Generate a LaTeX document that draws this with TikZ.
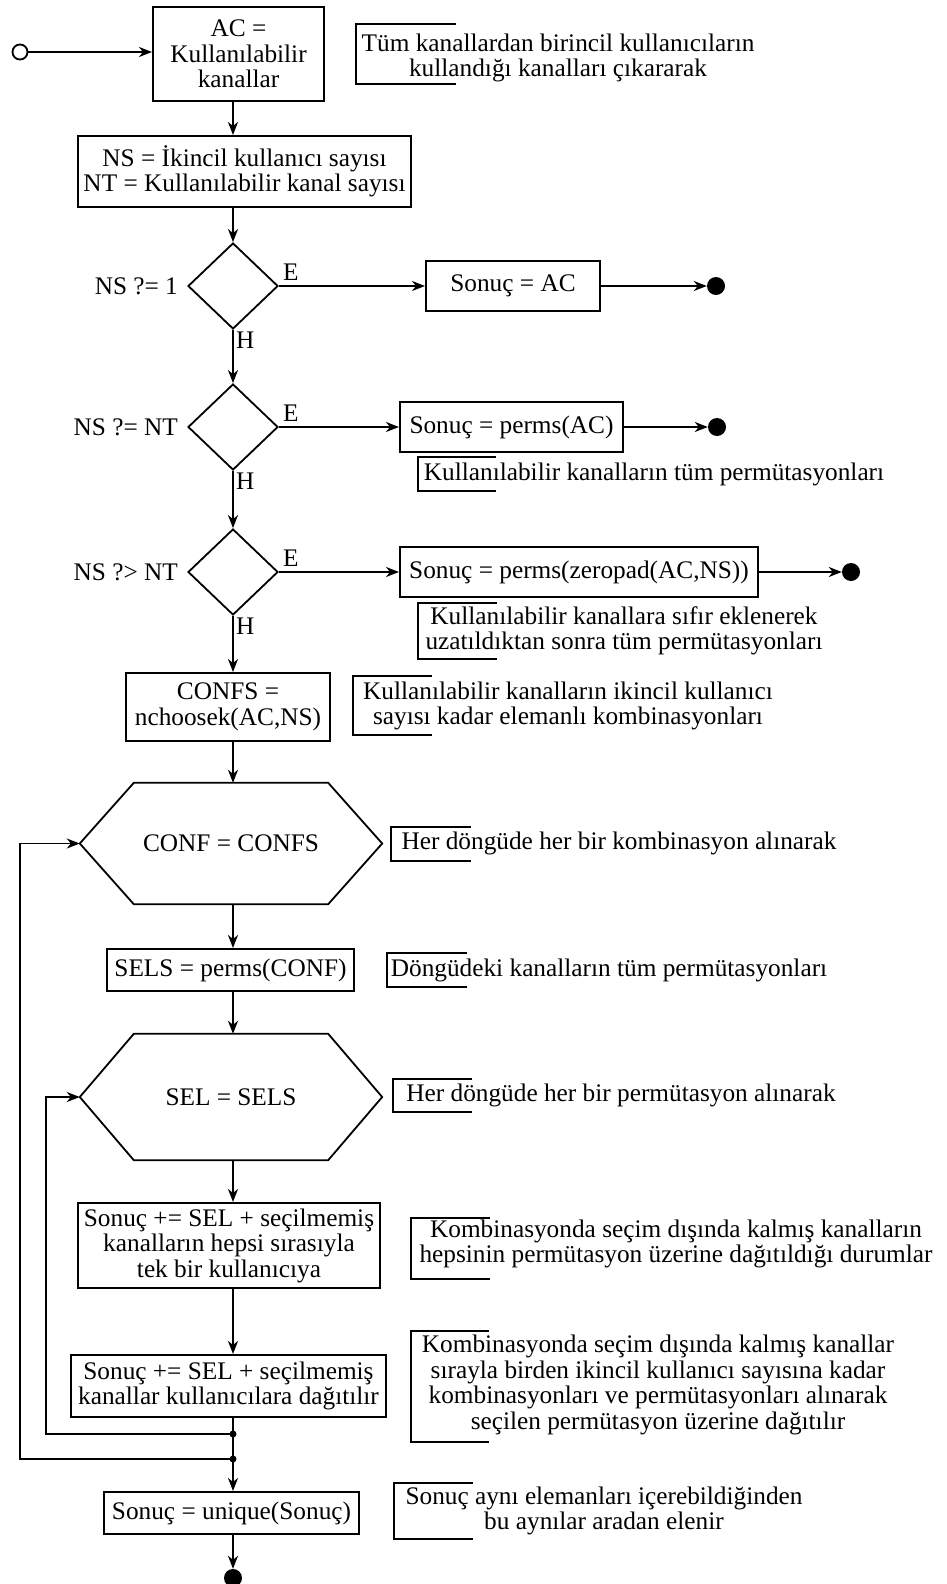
\documentclass[tikz,border=0pt]{standalone}
\usepackage{fontspec}
\setmainfont{Liberation Serif}
\usetikzlibrary{arrows.meta,positioning,shapes.geometric}
\newcommand{\dfont}{\fontsize{25.3pt}{25.5pt}\selectfont}
\tikzset{
  flowbox/.style={draw,line width=2pt,inner sep=2pt,align=center,font=\dfont},
  decision/.style={diamond,draw,line width=1.8pt,minimum width=90pt,
                   minimum height=86pt,inner sep=0pt},
  hexbox/.style={inner sep=0pt,align=center,font=\dfont,minimum width=302pt},
  note/.style={align=center,font=\dfont,inner sep=0pt},
  outlbl/.style={font=\dfont,inner sep=2pt},
  flowarr/.style={-{Stealth[length=13pt,width=10pt,inset=4pt]},line width=1.8pt},
  plainline/.style={line width=1.8pt},
  brk/.style={line width=2pt},
  enddot/.style={circle,fill,inner sep=0pt,minimum size=18pt},
  joint/.style={circle,fill,inner sep=0pt,minimum size=7pt},
  startpt/.style={circle,draw,line width=1.8pt,fill=white,inner sep=0pt,minimum size=15pt}
}
% hexagon outline round a hexbox node: #1 name, #2 inset of the flat edges
\newcommand{\hexdraw}[2]{%
  \draw[line width=1.8pt] (#1.west) -- ([xshift=#2]#1.north west)
    -- ([xshift=-#2]#1.north east) -- (#1.east)
    -- ([xshift=-#2]#1.south east) -- ([xshift=#2]#1.south west) -- cycle;}

\begin{document}
\begin{tikzpicture}[x=1pt,y=-1pt]
  \useasboundingbox (0,0) rectangle (947,1584);

  % start and first two boxes
  \node[startpt] (start) at (20,52) {};
  \node[flowbox,minimum width=171pt,minimum height=94pt] (ac) at (238.5,54)
    {AC =\\Kullanılabilir\\kanallar};
  \node[flowbox,minimum width=333pt,minimum height=71pt] (nsnt) at (244.5,171.5)
    {NS = İkincil kullanıcı sayısı\\NT = Kullanılabilir kanal sayısı};
  \node[note] (n1) at (558,58)
    {Tüm kanallardan birincil kullanıcıların\\kullandığı kanalları çıkararak};
  \draw[brk] (456,24) -| (356,84) -- (456,84);

  % three tests
  \node[decision] (d1) at (233,286) {};
  \node[outlbl,left=7pt of d1] (q1) {NS ?= 1};
  \node[outlbl,anchor=south west,xshift=2pt,yshift=3pt] (e1) at (d1.east) {E};
  \node[outlbl,anchor=north west,xshift=1pt] (h1) at (d1.south) {H};
  \node[flowbox,minimum width=174pt,minimum height=50pt] (r1) at (513,286) {Sonuç = AC};
  \node[enddot] (x1) at (716,286) {};

  \node[decision] (d2) at (233,427) {};
  \node[outlbl,left=7pt of d2] (q2) {NS ?= NT};
  \node[outlbl,anchor=south west,xshift=2pt,yshift=3pt] (e2) at (d2.east) {E};
  \node[outlbl,anchor=north west,xshift=1pt] (h2) at (d2.south) {H};
  \node[flowbox,minimum width=223pt,minimum height=50pt] (r2) at (511.5,427) {Sonuç = perms(AC)};
  \node[enddot] (x2) at (717,427) {};
  \node[note] (n2) at (654,474) {Kullanılabilir kanalların tüm permütasyonları};
  \draw[brk] (496,457) -| (418,491) -- (496,491);

  \node[decision] (d3) at (233,572) {};
  \node[outlbl,left=7pt of d3] (q3) {NS ?> NT};
  \node[outlbl,anchor=south west,xshift=2pt,yshift=3pt] (e3) at (d3.east) {E};
  \node[outlbl,anchor=north west,xshift=1pt] (h3) at (d3.south) {H};
  \node[flowbox,minimum width=358pt,minimum height=50pt] (r3) at (579,572)
    {Sonuç = perms(zeropad(AC,NS))};
  \node[enddot] (x3) at (851,572) {};
  \node[note] (n3) at (624,631)
    {Kullanılabilir kanallara sıfır eklenerek\\uzatıldıktan sonra tüm permütasyonları};
  \draw[brk] (497,603) -| (418,659) -- (497,659);

  % combinations
  \node[flowbox,minimum width=204pt,minimum height=68pt] (confs) at (228,707)
    {CONFS =\\nchoosek(AC,NS)};
  \node[note] (n4) at (568,706)
    {Kullanılabilir kanalların ikincil kullanıcı\\sayısı kadar elemanlı kombinasyonları};
  \draw[brk] (432,676) -| (353,735) -- (432,735);

  \node[hexbox,minimum height=121pt] (hex1) at (231,843.5) {CONF = CONFS};
  \hexdraw{hex1}{54pt}
  \node[note] (n5) at (619,843) {Her döngüde her bir kombinasyon alınarak};
  \draw[brk] (471,827) -| (391,861) -- (471,861);

  \node[flowbox,minimum width=247pt,minimum height=42pt] (sels) at (230.5,970)
    {SELS = perms(CONF)};
  \node[note] (n6) at (609,970) {Döngüdeki kanalların tüm permütasyonları};
  \draw[brk] (467,953) -| (387,987) -- (467,987);

  \node[hexbox,minimum height=126pt] (hex2) at (231,1097) {SEL = SELS};
  \hexdraw{hex2}{54pt}
  \node[note] (n7) at (621,1095) {Her döngüde her bir permütasyon alınarak};
  \draw[brk] (472,1079) -| (393,1112) -- (472,1112);

  \node[flowbox,minimum width=302pt,minimum height=85pt] (b1) at (229,1245.5)
    {Sonuç += SEL + seçilmemiş\\kanalların hepsi sırasıyla\\tek bir kullanıcıya};
  \node[note] (n8) at (676,1244)
    {Kombinasyonda seçim dışında kalmış kanalların\\hepsinin permütasyon üzerine dağıtıldığı durumlar};
  \draw[brk] (490,1218) -| (411,1279) -- (490,1279);

  \node[flowbox,minimum width=315pt,minimum height=62pt] (b2) at (228.5,1386)
    {Sonuç += SEL + seçilmemiş\\kanallar kullanıcılara dağıtılır};
  \node[note] (n9) at (658,1385)
    {Kombinasyonda seçim dışında kalmış kanallar\\sırayla birden ikincil kullanıcı sayısına kadar\\kombinasyonları ve permütasyonları alınarak\\seçilen permütasyon üzerine dağıtılır};
  \draw[brk] (489,1331) -| (411,1442) -- (489,1442);

  \node[joint] (j1) at (233,1434) {};
  \node[joint] (j2) at (233,1459) {};

  \node[flowbox,minimum width=255pt,minimum height=42pt] (uniq) at (231.5,1513)
    {Sonuç = unique(Sonuç)};
  \node[note] (n10) at (604,1511)
    {Sonuç aynı elemanları içerebildiğinden\\bu aynılar aradan elenir};
  \draw[brk] (473,1483) -| (394,1539) -- (473,1539);
  \node[enddot] (fin) at (233,1578) {};

  % connectors
  \draw[flowarr] (start.east) -- (start.east -| ac.west);
  \draw[flowarr] (ac.south -| d1) -- (nsnt.north -| d1);
  \draw[flowarr] (nsnt.south -| d1) -- (d1.north);
  \draw[flowarr] (d1.east) -- (r1.west);
  \draw[flowarr] (r1.east) -- (x1.west);
  \draw[flowarr] (d1.south) -- (d2.north);
  \draw[flowarr] (d2.east) -- (r2.west);
  \draw[flowarr] (r2.east) -- (x2.west);
  \draw[flowarr] (d2.south) -- (d3.north);
  \draw[flowarr] (d3.east) -- (r3.west);
  \draw[flowarr] (r3.east) -- (x3.west);
  \draw[flowarr] (d3.south) -- (confs.north -| d3);
  \draw[flowarr] (confs.south -| d3) -- (hex1.north -| d3);
  \draw[flowarr] (hex1.south -| d3) -- (sels.north -| d3);
  \draw[flowarr] (sels.south -| d3) -- (hex2.north -| d3);
  \draw[flowarr] (hex2.south -| d3) -- (b1.north -| d3);
  \draw[flowarr] (b1.south -| d3) -- (b2.north -| d3);
  \draw[plainline] (b2.south -| d3) -- (j2.center);
  \draw[flowarr] (j2.center) -- (uniq.north -| d3);
  \draw[flowarr] (uniq.south -| d3) -- (fin.north);
  % loop backs
  \draw[flowarr] (j1.center) -- ++(-187,0) |- (hex2.west);
  \draw[flowarr] (j2.center) -- ++(-213,0) |- (hex1.west);
\end{tikzpicture}
\end{document}
